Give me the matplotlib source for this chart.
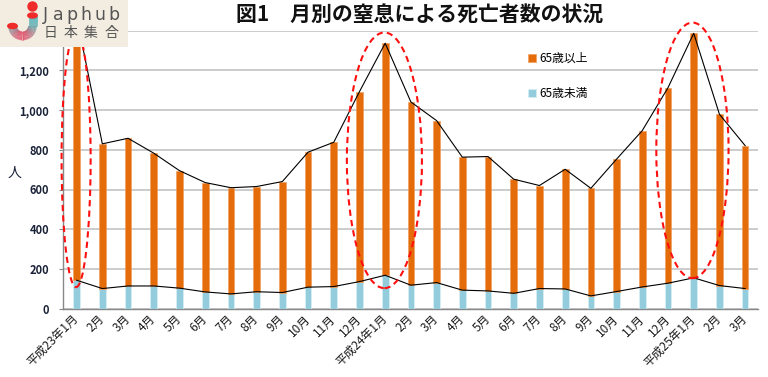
import matplotlib
matplotlib.use("Agg")
import matplotlib.pyplot as plt
from matplotlib.patches import Ellipse, Circle, Rectangle
from matplotlib.colors import LinearSegmentedColormap
import numpy as np

plt.rcParams['font.family'] = ['Noto Sans CJK JP', 'DejaVu Sans']

# ---------------- data ----------------
months = ['平成23年1月', '2月', '3月', '4月', '5月', '6月', '7月', '8月', '9月', '10月', '11月', '12月',
          '平成24年1月', '2月', '3月', '4月', '5月', '6月', '7月', '8月', '9月', '10月', '11月', '12月',
          '平成25年1月', '2月', '3月']
total = [1470, 830, 858, 783, 695, 635, 609, 615, 640, 788, 838, 1093,
         1337, 1041, 947, 763, 766, 652, 620, 702, 606, 753, 897, 1113,
         1387, 979, 821]
under65 = [143, 101, 114, 114, 103, 84, 74, 85, 81, 108, 111, 136,
           168, 118, 131, 93, 89, 77, 101, 99, 64, 86, 109, 128,
           155, 116, 101]
over65 = [t - u for t, u in zip(total, under65)]
series_labels = ['65歳以上', '65歳未満']
yticks = [0, 200, 400, 600, 800, 1000, 1200, 1400]
ytick_labels = ['0', '200', '400', '600', '800', '1,000', '1,200', '']
title = '図1\u3000月別の窒息による死亡者数の状況'
ylabel = '人'

ORANGE = '#E46C0A'
BLUE = '#93CDDD'

W, H = 768, 377
fig = plt.figure(figsize=(W / 100, H / 100), dpi=100)
ax = fig.add_axes([63 / W, 1 - 308.6 / H, (758 - 63) / W, (308.6 - 30.7) / H])

x = np.arange(len(months))
bw = 0.26
b1 = ax.bar(x, under65, width=bw, color=BLUE, edgecolor='#D6EEF3', linewidth=0.6, zorder=3)
b2 = ax.bar(x, over65, width=bw, bottom=under65, color=ORANGE, edgecolor='#F0A060', linewidth=0.5, zorder=3)
ax.plot(x, total, color='black', lw=0.8, zorder=4)
ax.plot(x, under65, color='black', lw=0.8, zorder=4)

ax.set_xlim(-0.53, len(months) - 0.5)
ax.set_ylim(0, 1400)
ax.set_yticks(yticks)
ax.set_yticklabels(ytick_labels, fontsize=8, fontweight='bold', color='#1a2238')
ax.yaxis.grid(True, color='#BEBEBE', lw=1.1, zorder=0)
ax.set_axisbelow(True)
ax.tick_params(axis='y', length=3, color='#888888', pad=7)
ax.tick_params(axis='x', length=0, pad=6)
ax.set_xticks(x)
ax.set_xticklabels(months, rotation=45, ha='right', va='center', rotation_mode='anchor',
                   fontsize=8.5, color='#1a1a1a')
for s in ['top', 'right']:
    ax.spines[s].set_visible(False)
for s in ['left', 'bottom']:
    ax.spines[s].set_color('#888888')
    ax.spines[s].set_linewidth(1.0)

fig.text(15 / W, 1 - 173 / H, ylabel, fontsize=10, ha='center', va='center', color='#1a2238')

# ellipses
for cx, cy, ew, eh in [(-0.02, 753, 1.13, 1290), (11.97, 747, 2.92, 1288), (23.95, 797, 2.81, 1288)]:
    e = Ellipse((cx, cy), ew, eh, fill=False, edgecolor='#FF1010', lw=1.5,
                linestyle=(0, (3, 2)), zorder=6, clip_on=False)
    ax.add_patch(e)

# legend
leg = ax.legend([b2, b1], series_labels, loc='upper left',
                bbox_to_anchor=(522 / W, 1 - 46 / H), bbox_transform=fig.transFigure,
                frameon=False, handlelength=0.7, handleheight=0.7, handletextpad=0.3,
                labelspacing=1.9, borderpad=0, fontsize=8.5)

fig.text(420 / W, 1 - 15 / H, title, fontsize=15, fontweight='bold', ha='center', va='center',
         color='#111111')

# logo
lg = fig.add_axes([0, 1 - 47 / H, 128 / W, 47 / H])
lg.set_xlim(0, 128)
lg.set_ylim(47, 0)
lg.axis('off')
lg.add_patch(Rectangle((0, 0), 128, 47, color='#F3ECE0', zorder=0))
t = np.linspace(0, np.pi, 40)
jx = np.concatenate([np.full(12, 32.5), 22.5 + 10.0 * np.cos(t), np.full(2, 12.5)])
jy = np.concatenate([np.linspace(15.5, 26, 12), 26 + 10 * np.sin(t), [26, 26.5]])
cols = LinearSegmentedColormap.from_list('j', ['#18B8BE', '#5FA8AE', '#E0506A'])
n = len(jx)
for i in range(n - 1):
    lg.plot(jx[i:i + 2], jy[i:i + 2], color=cols(min(1, jy[i] / 36.0) ** 2), lw=6.3,
            solid_capstyle='butt')
lg.add_patch(Ellipse((32.5, 15.5), 9.5, 5, color='#EE2A2A', zorder=5))
lg.add_patch(Ellipse((12.5, 26), 9.5, 5, color='#EE2A2A', zorder=5))
lg.add_patch(Circle((32.5, 6.5), 4.5, color='#EE2A2A', zorder=5))
for ch, cx in zip('Japhub', [45, 58.5, 72, 86, 100, 113.5]):
    lg.text(cx, 15.5, ch, fontsize=12.5, ha='center', va='center', color='#555555',
            family='DejaVu Sans')
for ch, cx in zip('日本集合', [50, 70.5, 91, 111.5]):
    lg.text(cx, 33, ch, fontsize=10, ha='center', va='center', color='#555555')

fig.savefig('out.png', dpi=100)
